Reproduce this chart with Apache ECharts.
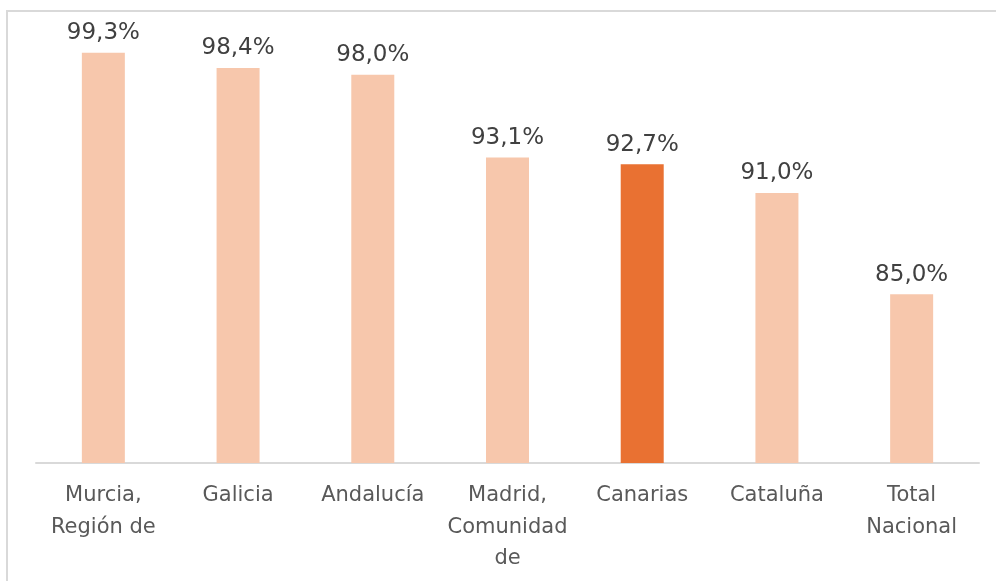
<!DOCTYPE html>
<html>
<head>
<meta charset="utf-8">
<script src="https://cdn.jsdelivr.net/npm/echarts@6/dist/echarts.min.js"></script>
<style>
html,body{margin:0;padding:0;background:#fff;}
#chart{width:996px;height:581px;}
</style>
</head>
<body>
<div id="chart"></div>
<script>
const categories = ["Murcia,\nRegión de", "Galicia", "Andalucía", "Madrid,\nComunidad\nde", "Canarias", "Cataluña", "Total\nNacional"];
const values = [99.3, 98.4, 98.0, 93.1, 92.7, 91.0, 85.0];
const highlightCategory = "Canarias";

const chart = echarts.init(document.getElementById('chart'));
const fontFamily = '"DejaVu Sans", "Liberation Sans", Arial, sans-serif';
chart.setOption({
  animation: false,
  backgroundColor: '#ffffff',
  graphic: [{
    type: 'rect',
    shape: {x: 7, y: 11, width: 1100, height: 700},
    style: {fill: 'none', stroke: '#d9d9d9', lineWidth: 2},
    silent: true
  }],
  grid: {left: 36, right: 17, top: 41, bottom: 118},
  xAxis: {
    type: 'category',
    data: categories,
    axisTick: {show: false},
    axisLine: {lineStyle: {color: '#d9d9d9', width: 2}},
    axisLabel: {
      color: '#595959',
      fontSize: 21,
      fontFamily: fontFamily,
      lineHeight: 31.5,
      margin: 17,
      interval: 0
    }
  },
  yAxis: {
    type: 'value',
    min: 75,
    max: 100,
    show: false,
    splitLine: {show: false}
  },
  series: [{
    type: 'bar',
    barWidth: 43,
    data: values.map((v, i) => ({
      value: v,
      itemStyle: {color: categories[i] === highlightCategory ? '#E97132' : '#F7C7AC'}
    })),
    label: {
      show: true,
      position: 'top',
      distance: 8,
      color: '#404040',
      fontSize: 23,
      fontFamily: fontFamily,
      formatter: p => p.value.toFixed(1).replace('.', ',') + '%'
    }
  }]
});
</script>
</body>
</html>
